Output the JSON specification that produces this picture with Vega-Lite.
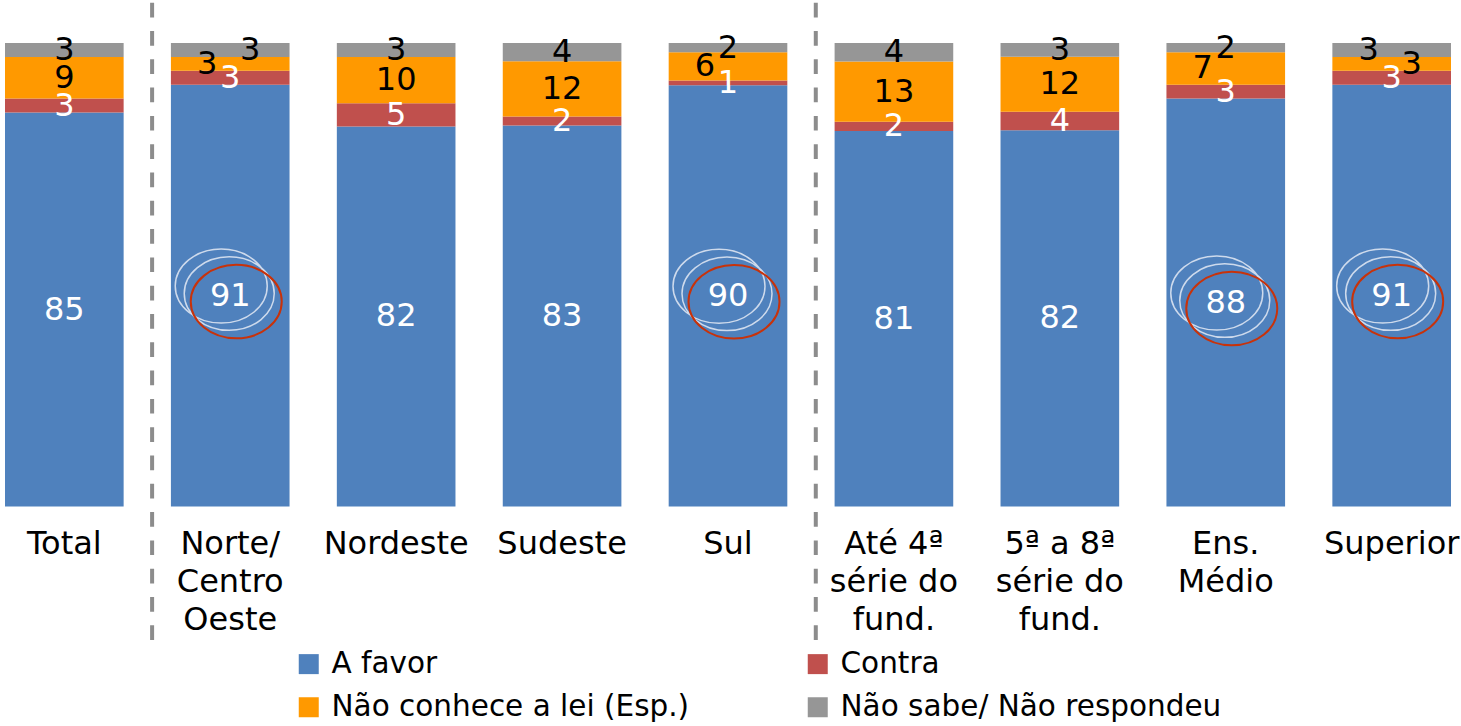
{
  "$schema": "https://vega.github.io/schema/vega-lite/v6.json",
  "width": 1446,
  "height": 463.5,
  "autosize": {"type": "none"},
  "padding": {"left": 5, "top": 43, "right": 10, "bottom": 219.5},
  "background": "white",
  "config": {"view": {"stroke": null}, "font": "DejaVu Sans"},
  "datasets": {
    "main": [
      {"cat": "Total", "series": "A favor", "value": 85},
      {"cat": "Total", "series": "Contra", "value": 3},
      {"cat": "Total", "series": "Não conhece a lei (Esp.)", "value": 9},
      {"cat": "Total", "series": "Não sabe/ Não respondeu", "value": 3},
      {"cat": "Norte/Centro Oeste", "series": "A favor", "value": 91},
      {"cat": "Norte/Centro Oeste", "series": "Contra", "value": 3},
      {"cat": "Norte/Centro Oeste", "series": "Não conhece a lei (Esp.)", "value": 3},
      {"cat": "Norte/Centro Oeste", "series": "Não sabe/ Não respondeu", "value": 3},
      {"cat": "Nordeste", "series": "A favor", "value": 82},
      {"cat": "Nordeste", "series": "Contra", "value": 5},
      {"cat": "Nordeste", "series": "Não conhece a lei (Esp.)", "value": 10},
      {"cat": "Nordeste", "series": "Não sabe/ Não respondeu", "value": 3},
      {"cat": "Sudeste", "series": "A favor", "value": 83},
      {"cat": "Sudeste", "series": "Contra", "value": 2},
      {"cat": "Sudeste", "series": "Não conhece a lei (Esp.)", "value": 12},
      {"cat": "Sudeste", "series": "Não sabe/ Não respondeu", "value": 4},
      {"cat": "Sul", "series": "A favor", "value": 90},
      {"cat": "Sul", "series": "Contra", "value": 1},
      {"cat": "Sul", "series": "Não conhece a lei (Esp.)", "value": 6},
      {"cat": "Sul", "series": "Não sabe/ Não respondeu", "value": 2},
      {"cat": "Até 4ª série do fund.", "series": "A favor", "value": 81},
      {"cat": "Até 4ª série do fund.", "series": "Contra", "value": 2},
      {"cat": "Até 4ª série do fund.", "series": "Não conhece a lei (Esp.)", "value": 13},
      {"cat": "Até 4ª série do fund.", "series": "Não sabe/ Não respondeu", "value": 4},
      {"cat": "5ª a 8ª série do fund.", "series": "A favor", "value": 82},
      {"cat": "5ª a 8ª série do fund.", "series": "Contra", "value": 4},
      {"cat": "5ª a 8ª série do fund.", "series": "Não conhece a lei (Esp.)", "value": 12},
      {"cat": "5ª a 8ª série do fund.", "series": "Não sabe/ Não respondeu", "value": 3},
      {"cat": "Ens. Médio", "series": "A favor", "value": 88},
      {"cat": "Ens. Médio", "series": "Contra", "value": 3},
      {"cat": "Ens. Médio", "series": "Não conhece a lei (Esp.)", "value": 7},
      {"cat": "Ens. Médio", "series": "Não sabe/ Não respondeu", "value": 2},
      {"cat": "Superior", "series": "A favor", "value": 91},
      {"cat": "Superior", "series": "Contra", "value": 3},
      {"cat": "Superior", "series": "Não conhece a lei (Esp.)", "value": 3},
      {"cat": "Superior", "series": "Não sabe/ Não respondeu", "value": 3}
    ],
    "seps": [
      {"cat": "Total"},
      {"cat": "Sul"}
    ]
  },
  "data": {"name": "main"},
  "layer": [
    {
      "mark": {"type": "bar"},
      "encoding": {
        "x": {
          "field": "cat", "type": "nominal", "sort": null,
          "scale": {
            "domain": ["Total", "Norte/Centro Oeste", "Nordeste", "Sudeste", "Sul", "Até 4ª série do fund.", "5ª a 8ª série do fund.", "Ens. Médio", "Superior"],
            "paddingInner": 0.285, "paddingOuter": 0
          },
          "axis": {
            "title": null, "domain": false, "ticks": false, "tickSize": 0,
            "labelAngle": 0, "labelFontSize": 32, "labelFont": "DejaVu Sans", "labelColor": "black",
            "labelPadding": 22, "labelLineHeight": 38, "labelBaseline": "top",
            "labelLimit": 400, "labelOverlap": false, "labelBound": false,
            "labelExpr": "datum.value == 'Norte/Centro Oeste' ? ['Norte/','Centro','Oeste'] : datum.value == 'Até 4ª série do fund.' ? ['Até 4ª','série do','fund.'] : datum.value == '5ª a 8ª série do fund.' ? ['5ª a 8ª','série do','fund.'] : datum.value == 'Ens. Médio' ? ['Ens.','Médio'] : datum.value"
          }
        },
        "y": {
          "field": "value", "type": "quantitative", "stack": "normalize",
          "scale": {"domain": [0, 1], "nice": false, "zero": false},
          "axis": null
        },
        "color": {
          "field": "series", "type": "nominal",
          "scale": {
            "domain": ["A favor", "Não conhece a lei (Esp.)", "Contra", "Não sabe/ Não respondeu"],
            "range": ["#4F81BD", "#FF9900", "#C0504D", "#969696"]
          },
          "legend": {
            "title": null, "orient": "none", "legendX": 289, "legendY": 606,
            "columns": 2, "columnPadding": 113, "rowPadding": 12.5, "padding": 0,
            "symbolType": "square", "symbolSize": 400, "symbolStrokeWidth": 0, "symbolOpacity": 1,
            "labelFontSize": 29.5, "labelFont": "DejaVu Sans", "labelColor": "black",
            "labelOffset": 8, "labelLimit": 600
          }
        },
        "order": {"field": "series", "sort": "ascending"}
      }
    },
    {
      "data": {"name": "seps"},
      "mark": {"type": "rule", "strokeDash": [14.7, 13.6], "strokeWidth": 4, "color": "#8C8C8C", "strokeCap": "butt"},
      "encoding": {
        "x": {"field": "cat", "type": "nominal", "sort": null, "bandPosition": 1.24},
        "y": {"datum": 1.087, "type": "quantitative"},
        "y2": {"datum": -0.31}
      }
    },
    {
      "mark": {"type": "point", "shape": "M 0.74 -0.19 C 0.74 0.2187 0.3281 0.55 -0.18 0.55 C -0.6881 0.55 -1.1 0.2187 -1.1 -0.19 C -1.1 -0.5987 -0.6881 -0.93 -0.18 -0.93 C 0.3281 -0.93 0.74 -0.5987 0.74 -0.19 Z M 0.88 -0.04 C 0.88 0.3659 0.4771 0.695 -0.02 0.695 C -0.5171 0.695 -0.92 0.3659 -0.92 -0.04 C -0.92 -0.4459 -0.5171 -0.775 -0.02 -0.775 C 0.4771 -0.775 0.88 -0.4459 0.88 -0.04 Z", "size": 10000, "filled": false, "color": "#E4EAF4", "strokeWidth": 1.5, "opacity": 1},
      "encoding": {
        "x": {"field": "cat", "type": "nominal", "sort": null},
        "y": {"field": "value", "type": "quantitative", "stack": "normalize", "bandPosition": 0.5},
        "detail": {"field": "series"},
        "order": {"field": "series", "sort": "ascending"},
        "strokeOpacity": {"condition": {"test": "datum.series == 'A favor' && datum.value >= 88", "value": 0.85}, "value": 0}
      }
    },
    {
      "mark": {"type": "point", "shape": "M 1.03 0.12 C 1.03 0.5259 0.6226 0.855 0.12 0.855 C -0.3826 0.855 -0.79 0.5259 -0.79 0.12 C -0.79 -0.2859 -0.3826 -0.615 0.12 -0.615 C 0.6226 -0.615 1.03 -0.2859 1.03 0.12 Z", "size": 10000, "filled": false, "color": "#C8320A", "strokeWidth": 2, "opacity": 1},
      "encoding": {
        "x": {"field": "cat", "type": "nominal", "sort": null},
        "y": {"field": "value", "type": "quantitative", "stack": "normalize", "bandPosition": 0.5},
        "detail": {"field": "series"},
        "order": {"field": "series", "sort": "ascending"},
        "strokeOpacity": {"condition": {"test": "datum.series == 'A favor' && datum.value >= 88", "value": 1}, "value": 0}
      }
    },
    {
      "mark": {"type": "text", "fontSize": 32, "font": "DejaVu Sans", "baseline": "middle", "align": "center"},
      "encoding": {
        "x": {"field": "cat", "type": "nominal", "sort": null},
        "y": {"field": "value", "type": "quantitative", "stack": "normalize", "bandPosition": 0.5},
        "detail": {"field": "series"},
        "order": {"field": "series", "sort": "ascending"},
        "text": {"condition": {"test": "!((datum.series=='Não conhece a lei (Esp.)' && (datum.cat=='Norte/Centro Oeste' || datum.cat=='Sul' || datum.cat=='Ens. Médio' || datum.cat=='Superior')) || (datum.series=='Não sabe/ Não respondeu' && (datum.cat=='Superior' || datum.cat=='Norte/Centro Oeste')))", "field": "value", "type": "quantitative", "format": "d"}, "value": ""},
        "color": {"condition": {"test": "datum.series == 'A favor' || datum.series == 'Contra'", "value": "white"}, "value": "black"}
      }
    },
    {
      "mark": {"type": "text", "fontSize": 32, "font": "DejaVu Sans", "baseline": "middle", "align": "center", "dx": -23, "color": "black"},
      "encoding": {
        "x": {"field": "cat", "type": "nominal", "sort": null},
        "y": {"field": "value", "type": "quantitative", "stack": "normalize", "bandPosition": 0.5},
        "detail": {"field": "series"},
        "order": {"field": "series", "sort": "ascending"},
        "text": {"condition": {"test": "(datum.series=='Não conhece a lei (Esp.)' && (datum.cat=='Norte/Centro Oeste' || datum.cat=='Sul' || datum.cat=='Ens. Médio')) || (datum.series=='Não sabe/ Não respondeu' && datum.cat=='Superior')", "field": "value", "type": "quantitative", "format": "d"}, "value": ""}
      }
    },
    {
      "mark": {"type": "text", "fontSize": 32, "font": "DejaVu Sans", "baseline": "middle", "align": "center", "dx": 20, "color": "black"},
      "encoding": {
        "x": {"field": "cat", "type": "nominal", "sort": null},
        "y": {"field": "value", "type": "quantitative", "stack": "normalize", "bandPosition": 0.5},
        "detail": {"field": "series"},
        "order": {"field": "series", "sort": "ascending"},
        "text": {"condition": {"test": "(datum.series=='Não sabe/ Não respondeu' && datum.cat=='Norte/Centro Oeste') || (datum.series=='Não conhece a lei (Esp.)' && datum.cat=='Superior')", "field": "value", "type": "quantitative", "format": "d"}, "value": ""}
      }
    }
  ]
}
